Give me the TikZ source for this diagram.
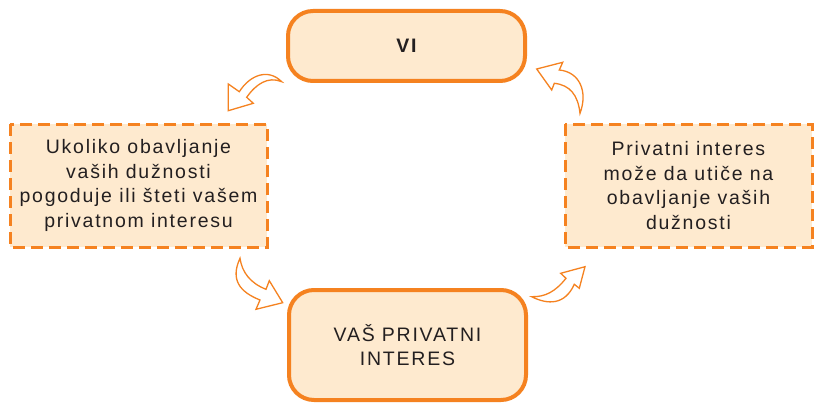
\documentclass[tikz,border=0pt]{standalone}
\usepackage{fontspec}
\setmainfont{Liberation Sans}[LetterSpace=9]
\definecolor{orng}{HTML}{F58220}
\definecolor{peach}{HTML}{FEEACF}
\definecolor{txt}{HTML}{231F20}
\begin{document}
\begin{tikzpicture}[x=1pt,y=-1pt,
  solidbox/.style={draw=orng,fill=peach,line width=4pt,rounded corners=25pt},
  dashbox/.style={draw=orng,fill=peach,line width=3pt,dash pattern=on 12pt off 6pt},
  lbl/.style={text=txt,align=center,font=\fontsize{19.5}{24.5}\selectfont},
  carrow/.style={draw=orng,fill=white,line width=1.3pt,line join=miter}]
\useasboundingbox (0,0) rectangle (820,404);
\fill[white] (0,0) rectangle (820,404);
% boxes
\draw[solidbox] (288,11) rectangle (525,81);
\draw[solidbox] (289,290) rectangle (526,400);
\draw[dashbox] (10,124) rectangle (267,247);
\draw[dashbox] (565,124) rectangle (812,247);
% texts
\node[lbl,font=\fontsize{19.5}{24}\selectfont\bfseries] (vi) at (406.5,46) {VI};
\node[lbl] (left) at (138.5,185.5) {Ukoliko obavljanje\\vaših dužnosti\\pogoduje ili šteti vašem\\privatnom interesu};
\node[lbl] (right) at (688.5,185.5) {Privatni interes\\može da utiče na\\obavljanje vaših\\dužnosti};
\node[lbl] (interes) at (407.5,345) {VAŠ PRIVATNI\\INTERES};
% curved arrows
\draw[carrow] (228.3,84) -- (239.3,91.7) .. controls (250,75) and (268,68) .. (281.7,81.7)
  .. controls (268,76) and (256,84) .. (246.7,97.3) -- (253.3,103.3) -- (228.3,110.7) -- cycle;
\draw[carrow] (536.7,69) -- (562.7,62.3) -- (559.3,70) .. controls (580,72) and (588,92) .. (580,113.3)
  .. controls (578,95) and (570,85) .. (554.3,83.3) -- (551.7,90) -- cycle;
\draw[carrow] (240,258.3) .. controls (230,280) and (240,292) .. (260,300) -- (256,309.3) -- (282.7,302.7)
  -- (269.3,280.7) -- (266,289.3) .. controls (250,283) and (242,272) .. cycle;
\draw[carrow] (585,266.7) -- (560.7,273.3) -- (566,278.3) .. controls (555,292) and (545,297) .. (531.7,296.7)
  .. controls (548,305) and (565,305) .. (574.3,284.3) -- (579.3,288.3) -- cycle;
\end{tikzpicture}
\end{document}
